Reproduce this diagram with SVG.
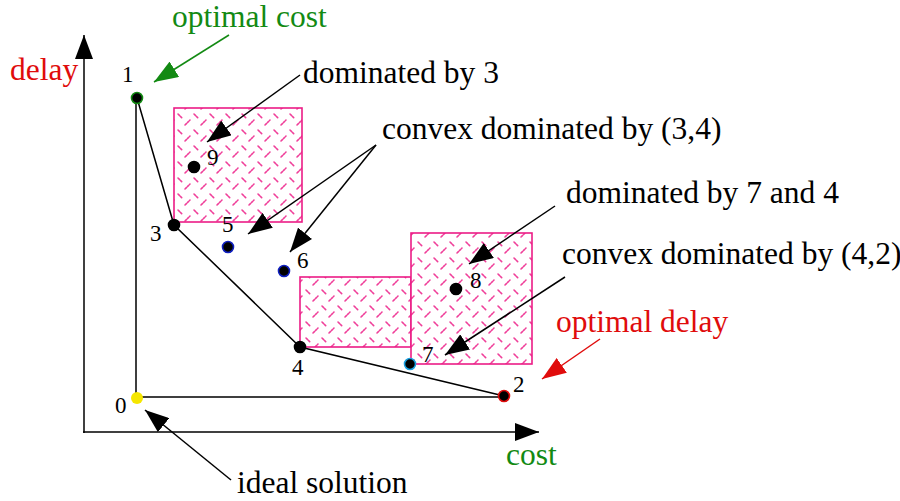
<svg xmlns="http://www.w3.org/2000/svg" width="900" height="501" viewBox="0 0 900 501">
<style>
text{font-family:"Liberation Serif","Times New Roman",serif;}
.ann{font-size:31.5px;fill:#000;}
.lbl{font-size:23px;fill:#000;}
.ln{stroke:#000;stroke-width:1.5;fill:none;}
.arr{stroke:#000;stroke-width:1.5;fill:none;marker-end:url(#ah);}
.box{fill:url(#hatch);stroke:#ec1c86;stroke-width:1.6;}
.pt{fill:#000;stroke-width:1.6;}
</style>
<defs>
<pattern id="hatch" patternUnits="userSpaceOnUse" width="16" height="16">
<rect width="16" height="16" fill="#fff"/>
<path d="M2,2 L6,6 M9,13 L14,8" stroke="#f0409a" stroke-width="1.6" stroke-linecap="round" stroke-dasharray="2 1.2"/>
</pattern>
<marker id="ah" markerUnits="userSpaceOnUse" markerWidth="24" markerHeight="18" refX="24" refY="9" orient="auto"><path d="M0,0 L24,9 L0,18 z" fill="#000"/></marker>
<marker id="ahg" markerUnits="userSpaceOnUse" markerWidth="24" markerHeight="18" refX="24" refY="9" orient="auto"><path d="M0,0 L24,9 L0,18 z" fill="#138a13"/></marker>
<marker id="ahr" markerUnits="userSpaceOnUse" markerWidth="24" markerHeight="18" refX="24" refY="9" orient="auto"><path d="M0,0 L24,9 L0,18 z" fill="#e00c0c"/></marker>
</defs>
<rect width="900" height="501" fill="#fff"/>

<g id="regions">
<rect class="box" x="174" y="108" width="128" height="114"/>
<rect class="box" x="300" y="277" width="111" height="70"/>
<rect class="box" x="411" y="233" width="121" height="131"/>
</g>

<g id="connectors">
<line class="arr" x1="84" y1="433" x2="84" y2="35"/>
<line class="arr" x1="83" y1="432" x2="539" y2="432"/>
<polyline class="ln" points="136,98 136,397 504,397"/>
<polyline class="ln" points="137,98 174,225 300,347 504,396"/>
<line class="arr" x1="300" y1="75" x2="207" y2="142"/>
<line class="arr" x1="376" y1="145" x2="248" y2="234"/>
<line class="arr" x1="376" y1="145" x2="290" y2="252"/>
<line class="arr" x1="555" y1="206" x2="469" y2="264"/>
<line class="arr" x1="565" y1="277" x2="445" y2="355"/>
<line class="arr" x1="231" y1="480" x2="145" y2="410"/>
<line x1="229" y1="35" x2="154" y2="82" stroke="#138a13" stroke-width="1.5" marker-end="url(#ahg)"/>
<line x1="600" y1="339" x2="542" y2="379" stroke="#e00c0c" stroke-width="1.5" marker-end="url(#ahr)"/>
</g>

<g id="n0"><circle cx="137" cy="398" r="6" fill="#f5e600"/><text class="lbl" x="115" y="413">0</text></g>
<g id="n1"><circle class="pt" cx="137" cy="98" r="5.5" stroke="#138a13"/><text class="lbl" x="122" y="82">1</text></g>
<g id="n2"><circle class="pt" cx="504" cy="396" r="5.5" stroke="#e00c0c"/><text class="lbl" x="513" y="392">2</text></g>
<g id="n3"><circle class="pt" cx="174" cy="225" r="5.5" stroke="#000"/><text class="lbl" x="150" y="241">3</text></g>
<g id="n4"><circle class="pt" cx="300" cy="347" r="5.5" stroke="#000"/><text class="lbl" x="292" y="375">4</text></g>
<g id="n5"><circle class="pt" cx="228" cy="247" r="5.5" stroke="#1020c0"/><text class="lbl" x="222" y="232">5</text></g>
<g id="n6"><circle class="pt" cx="284" cy="271" r="5.5" stroke="#1020c0"/><text class="lbl" x="297" y="268">6</text></g>
<g id="n7"><circle class="pt" cx="410" cy="364" r="5.5" stroke="#1aa0e0"/><text class="lbl" x="422" y="362">7</text></g>
<g id="n8"><circle class="pt" cx="456" cy="289" r="5.5" stroke="#000"/><text class="lbl" x="470" y="288">8</text></g>
<g id="n9"><circle class="pt" cx="194" cy="167" r="5.5" stroke="#000"/><text class="lbl" x="207" y="165">9</text></g>

<g id="labels">
<text class="ann" x="172" y="27" style="fill:#138a13">optimal cost</text>
<text class="ann" x="10" y="80" style="fill:#e00c0c">delay</text>
<text class="ann" x="303" y="83">dominated by 3</text>
<text class="ann" x="382" y="139">convex dominated by (3,4)</text>
<text class="ann" x="566" y="203">dominated by 7 and 4</text>
<text class="ann" x="562" y="264">convex dominated by (4,2)</text>
<text class="ann" x="556" y="332" style="fill:#e00c0c">optimal delay</text>
<text class="ann" x="506" y="465" style="fill:#138a13">cost</text>
<text class="ann" x="237" y="493">ideal solution</text>
</g>
</svg>
